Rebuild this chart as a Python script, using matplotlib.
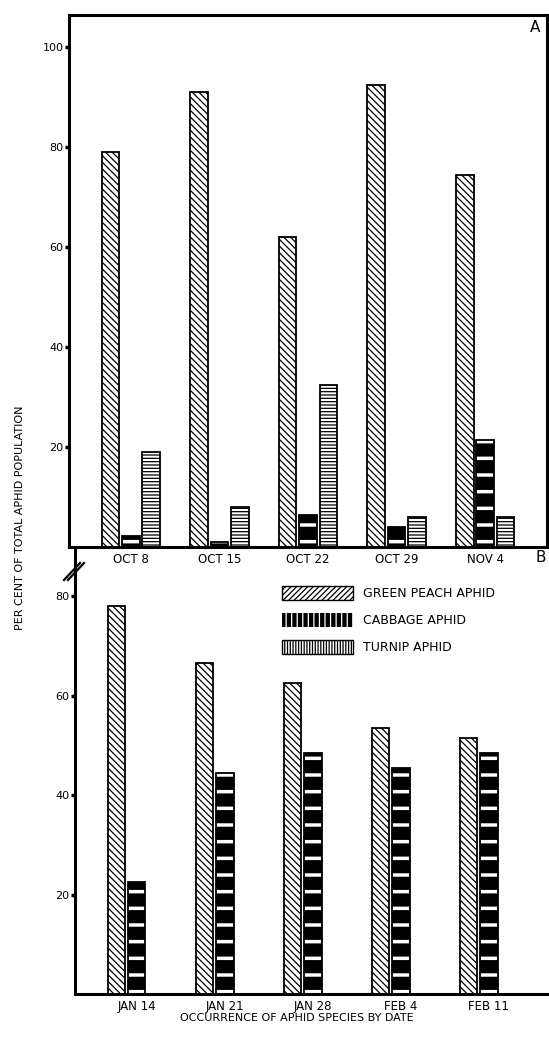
import numpy as np
import matplotlib.pyplot as plt
from matplotlib.patches import Patch
from matplotlib.lines import Line2D

# panel A (autumn) values, per cent of total
oct_dates = ['OCT 8', 'OCT 15', 'OCT 22', 'OCT 29', 'NOV 4']
oct_green = [79, 91, 62, 92.5, 74.5]
oct_cabbage = [2.2, 1, 6.5, 4, 21.5]
oct_turnip = [19, 8, 32.5, 6, 6]

# panel B (winter) values
win_dates = ['JAN 14', 'JAN 21', 'JAN 28', 'FEB 4', 'FEB 11']
win_green = [78, 66.5, 62.5, 53.5, 51.5]
win_cabbage = [22.5, 44.5, 48.5, 45.5, 48.5]

species = ['GREEN PEACH APHID', 'CABBAGE APHID', 'TURNIP APHID']

plt.rcParams['font.family'] = ['DejaVu Sans']
plt.rcParams['hatch.linewidth'] = 0.9

W, H = 549, 1043
fig = plt.figure(figsize=(W / 100, H / 100), dpi=100)

w = 0.2     # bar width
off = 0.23  # bar offset within group


def fx(px):
    return px / W


def fy(py):
    return 1 - py / H


def green_bars(ax, x, h):
    ax.bar(x, h, w, color='white', edgecolor='black', hatch='\\\\\\\\\\', linewidth=1.3)


def cabbage_bars(ax, x, h):
    b = ax.bar(x, h, w, color='black', edgecolor='white', hatch='-', linewidth=0)
    for p in b:
        if hasattr(p, 'set_hatch_linewidth'):
            p.set_hatch_linewidth(2.5)
    ax.bar(x, h, w, fill=False, edgecolor='black', linewidth=1.3)


def turnip_bars(ax, x, h):
    ax.bar(x, h, w, color='white', edgecolor='black', hatch='-----', linewidth=1.3)


def style(ax, ticks, spines):
    ax.patch.set_visible(False)
    for s in ['top', 'right', 'left', 'bottom']:
        ax.spines[s].set_visible(s in spines)
        ax.spines[s].set_linewidth(2.2)
    ax.set_yticks(ticks)
    ax.set_yticklabels([str(t) for t in ticks])
    ax.tick_params(axis='y', direction='out', length=3, width=2.5, labelsize=8, pad=1)
    ax.tick_params(axis='x', length=0, labelsize=8.5, pad=4)


# --- panel A ---
axA = fig.add_axes([fx(69), fy(547), fx(547) - fx(69), fy(15) - fy(547)])
x = np.arange(len(oct_dates))
green_bars(axA, x - off, oct_green)
cabbage_bars(axA, x, oct_cabbage)
turnip_bars(axA, x + off, oct_turnip)
axA.set_xlim(-0.70, 4.70)
axA.set_ylim(0, 106.5)
axA.set_xticks(x)
axA.set_xticklabels(oct_dates)
style(axA, [20, 40, 60, 80, 100], ['top', 'right', 'left', 'bottom'])

# --- panel B ---
axB = fig.add_axes([fx(75), fy(994), fx(547) - fx(75), fy(547) - fy(994)])
x = np.arange(len(win_dates))
green_bars(axB, x - off, win_green)
cabbage_bars(axB, x, win_cabbage)
axB.set_xlim(-0.70, 4.66)
axB.set_ylim(0, 89.9)
axB.set_xticks(x)
axB.set_xticklabels(win_dates)
style(axB, [20, 40, 60, 80], ['left', 'bottom'])

# legend swatches
h_green = Patch(facecolor='white', edgecolor='black', hatch='//////', linewidth=1.0)
h_cab = Patch(facecolor='black', edgecolor='white', hatch='|||', linewidth=0)
h_turn = Patch(facecolor='white', edgecolor='black', hatch='||||||', linewidth=1.0)
axB.legend([h_green, h_cab, h_turn], species, loc='upper left',
           bbox_to_anchor=(fx(282), fy(586)), bbox_transform=fig.transFigure,
           frameon=False, fontsize=9, handlelength=5.7, handleheight=1.4,
           handletextpad=0.8, labelspacing=1.0, borderpad=0, borderaxespad=0)

# axis titles and panel letters
fig.text(fx(20), fy(518), 'PER CENT OF TOTAL APHID POPULATION', rotation=90,
         ha='center', va='center', fontsize=8)
fig.text(fx(297), fy(1018), 'OCCURRENCE OF APHID SPECIES BY DATE',
         ha='center', va='center', fontsize=8)
fig.text(fx(535), fy(27), 'A', ha='center', va='center', fontsize=11)
fig.text(fx(541), fy(557), 'B', ha='center', va='center', fontsize=11)

# axis break mark
for dx in (0, 4):
    fig.add_artist(Line2D([fx(64 + dx), fx(80 + dx)], [fy(580), fy(563)],
                          color='black', linewidth=1.6))

fig.savefig('out.png', dpi=100)
